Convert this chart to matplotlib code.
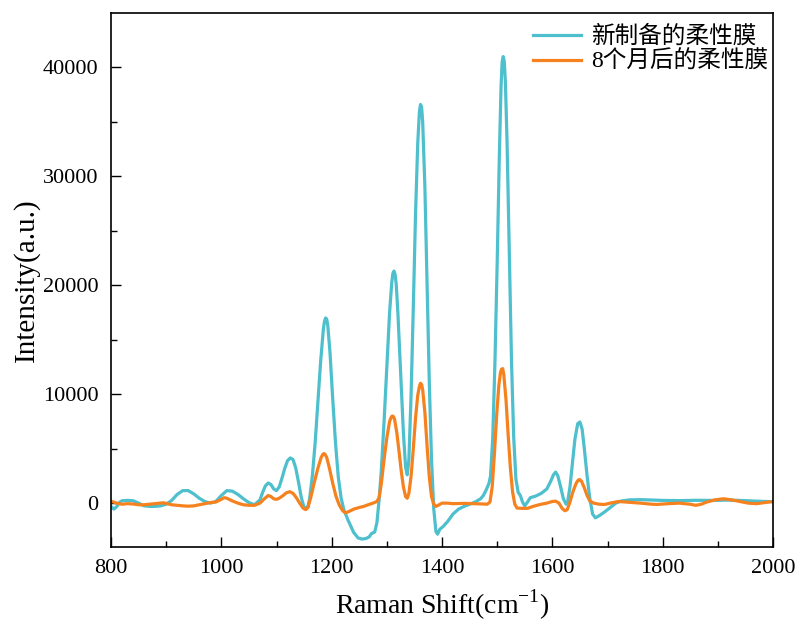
import matplotlib
matplotlib.use("Agg")
import matplotlib.pyplot as plt
from matplotlib.ticker import MultipleLocator

# ---- data ----
fresh_x = [800, 805, 810, 815, 820, 830, 840, 850, 860, 870, 880, 890, 900, 910, 920, 930, 940, 950, 960, 970,
           980, 990, 1000, 1010, 1020, 1030, 1040, 1050, 1060, 1070, 1075, 1080, 1085, 1090, 1095, 1100, 1105,
           1110, 1115, 1120, 1125, 1130, 1135, 1140, 1145, 1150, 1153, 1157, 1160, 1165, 1170, 1175, 1180, 1185,
           1187, 1189, 1191, 1193, 1197, 1202, 1207, 1212, 1217, 1222, 1230, 1240, 1248, 1255, 1262, 1268, 1272,
           1278, 1282, 1286, 1290, 1295, 1300, 1305, 1309, 1311, 1313, 1315, 1317, 1320, 1325, 1330, 1334, 1337,
           1340, 1344, 1348, 1352, 1356, 1359, 1361, 1363, 1365, 1369, 1373, 1377, 1381, 1385, 1389, 1392, 1396,
           1402, 1410, 1420, 1430, 1440, 1450, 1460, 1470, 1475, 1480, 1485, 1488, 1492, 1496, 1500, 1504, 1507,
           1509, 1511, 1513, 1515, 1518, 1522, 1526, 1530, 1534, 1538, 1542, 1546, 1550, 1555, 1560, 1570, 1580,
           1590, 1597, 1602, 1606, 1610, 1615, 1620, 1625, 1628, 1632, 1636, 1641, 1646, 1650, 1654, 1658, 1663,
           1668, 1673, 1678, 1685, 1695, 1705, 1715, 1725, 1740, 1760, 1780, 1800, 1830, 1860, 1890, 1920, 1950,
           1970, 2000]
fresh_y = [-300, -550, -350, 50, 220, 250, 220, 0, -250, -300, -300, -250, -100, 250, 800, 1150, 1150, 850, 450, 150,
           0, 150, 700, 1150, 1100, 800, 400, 50, -150, 300, 1000, 1600, 1850, 1700, 1300, 1150, 1500,
           2300, 3200, 3900, 4150, 4000, 3200, 1900, 500, -400, -500, -300, 400, 2500, 5500, 9200, 13000, 16000,
           16700, 17000, 16900, 16300, 13800, 9500, 5500, 2400, 500, -600, -1600, -2700, -3200, -3300, -3250, -3100, -2800,
           -2650, -1800, 300, 3000, 7500, 12500, 17500, 20300, 21100, 21300, 21000, 20100, 17500, 12000, 6500, 3300, 2600,
           4000, 10000, 18000, 26500, 33000, 35900, 36600, 36400, 35000, 29000, 20000, 11000, 4000, -500, -2600, -2850, -2400,
           -2150, -1700, -1000, -550, -300, -100, 100, 400, 700, 1200, 1800, 2500, 6000, 13000, 22000, 32000, 38200,
           40500, 41000, 40500, 38500, 33000, 23000, 13000, 6000, 2200, 1000, 700, 100, -250, 100, 500, 650, 900,
           1300, 2000, 2600, 2850, 2500, 1500, 400, -100, 200, 1500, 3500, 5900, 7300, 7450, 6800, 5000, 2500,
           400, -1000, -1350, -1150, -800, -400, 0, 200, 300, 320, 280, 250, 230, 260, 250, 280, 230,
           180, 130]

aged_x = [800, 810, 820, 830, 840, 850, 860, 870, 880, 890, 895, 900, 910, 920, 930, 940, 950, 960, 970, 980,
          990, 1000, 1005, 1010, 1020, 1030, 1040, 1050, 1060, 1070, 1078, 1085, 1090, 1095, 1100, 1105, 1112,
          1118, 1124, 1130, 1136, 1142, 1148, 1153, 1157, 1162, 1168, 1175, 1181, 1184, 1186, 1188, 1191, 1196,
          1202, 1208, 1214, 1220, 1225, 1232, 1240, 1250, 1258, 1266, 1275, 1282, 1286, 1290, 1295, 1300, 1305,
          1308, 1310, 1312, 1314, 1318, 1322, 1326, 1330, 1334, 1337, 1340, 1344, 1348, 1352, 1356, 1359, 1361,
          1363, 1365, 1369, 1373, 1377, 1381, 1385, 1389, 1393, 1400, 1410, 1420, 1440, 1460, 1475, 1482, 1487,
          1491, 1495, 1499, 1503, 1506, 1508, 1510, 1512, 1516, 1520, 1524, 1528, 1532, 1536, 1545, 1555, 1565,
          1578, 1590, 1600, 1606, 1612, 1618, 1623, 1627, 1632, 1637, 1643, 1646, 1648, 1650, 1653, 1658, 1663,
          1668, 1675, 1685, 1695, 1705, 1720, 1740, 1760, 1780, 1790, 1810, 1830, 1850, 1860, 1870, 1880, 1895,
          1910, 1925, 1940, 1955, 1970, 1985, 2000]
aged_y = [180, 0, -100, -50, -80, -150, -150, -100, -50, 0, 30, -30, -150, -200, -250, -280, -250, -150, -50, 50,
          100, 350, 500, 450, 200, 0, -150, -200, -200, 0, 400, 700, 600, 400, 350, 450, 700,
          950, 1050, 900, 500, 0, -450, -600, -400, 500, 1800, 3200, 4200, 4480, 4550, 4480, 4200, 3200,
          1800, 600, -200, -700, -900, -750, -550, -400, -300, -150, 0, 150, 500, 1800, 4000, 6000, 7500,
          7900, 8000, 7950, 7700, 6500, 4800, 3000, 1500, 600, 450, 900, 2500, 5000, 7800, 9900, 10700, 11000,
          10900, 10400, 8300, 5200, 2400, 600, -100, -300, -200, 0, 0, -50, -20, -50, -80, -100, 100,
          1500, 4500, 8000, 10800, 12000, 12300, 12350, 11800, 9500, 6200, 3200, 1000, -100, -450, -480, -480, -300,
          -120, 0, 150, 180, 0, -500, -700, -600, 100, 1000, 1800, 2050, 2150, 2150, 2000, 1400, 700,
          200, 0, -100, -120, 0, 150, 80, 0, -100, -120, -50, 0, -100, -200, -100, 100, 300,
          400, 300, 150, 0, -50, 50, 150]

labels = ["新制备的柔性膜", "8个月后的柔性膜"]
colors = ["#4EBFCD", "#F5821F"]
x_ticks = [800, 1000, 1200, 1400, 1600, 1800, 2000]
y_ticks = [0, 10000, 20000, 30000, 40000]

plt.rcParams['font.family'] = ['Liberation Serif', 'Noto Sans CJK SC', 'DejaVu Sans']
plt.rcParams['mathtext.fontset'] = 'custom'
plt.rcParams['mathtext.rm'] = 'Liberation Serif'

fig = plt.figure(figsize=(7.96, 6.26), dpi=100)
ax = fig.add_axes([111/796, 1-546.7/626, (773-111)/796, (546.7-13)/626])

ax.plot(fresh_x, fresh_y, color=colors[0], lw=2.3, label=labels[0], solid_joinstyle='round')
ax.plot(aged_x, aged_y, color=colors[1], lw=2.3, label=labels[1], solid_joinstyle='round')

ax.set_xlim(800, 2000)
ax.set_ylim(-4000, 45000)
ax.set_xticks(x_ticks)
ax.set_yticks(y_ticks)
ax.xaxis.set_minor_locator(MultipleLocator(100))
ax.set_yticks([-5000 + 10000 * i for i in range(1, 5)], minor=True)
ax.tick_params(which='major', direction='in', length=7.5, width=1.0, labelsize=16)
ax.tick_params(which='minor', direction='in', length=4, width=1.0)
ax.tick_params(axis='x', pad=9)
ax.tick_params(axis='y', pad=9)
for s in ax.spines.values():
    s.set_linewidth(1.2)

ax.set_xlabel("Raman Shift(cm$^{\\mathregular{-1}}$)", fontsize=20, labelpad=7)
ax.set_ylabel("Intensity(a.u.)", fontsize=21, labelpad=2)

leg = ax.legend(loc='upper right', bbox_to_anchor=(1.0, 0.985), frameon=False,
                prop={'family': ['Liberation Serif', 'Noto Sans CJK SC', 'DejaVu Sans'], 'size': 17},
                handlelength=2.0, handletextpad=0.45, labelspacing=0.11,
                borderaxespad=0.1, borderpad=0.1)

fig.savefig("out.png", dpi=100)
